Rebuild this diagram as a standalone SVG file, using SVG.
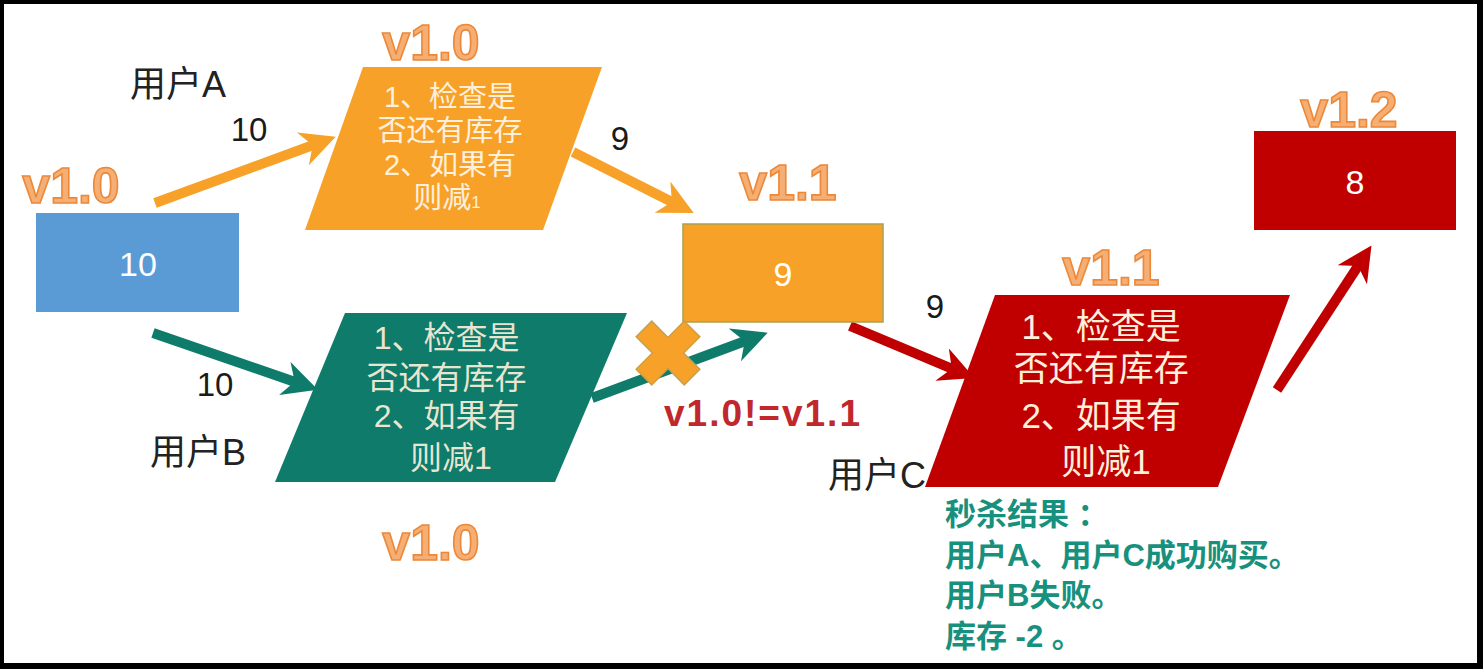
<svg xmlns="http://www.w3.org/2000/svg" width="1483" height="669" viewBox="0 0 1483 669">
  <defs>
    <marker id="headO" viewBox="0 0 10 10" refX="4" refY="5" markerWidth="3.5" markerHeight="3.5" orient="auto" markerUnits="strokeWidth">
      <path d="M0,0 L10,5 L0,10 L3,5 z" fill="#F7A128"/>
    </marker>
    <marker id="headG" viewBox="0 0 10 10" refX="4" refY="5" markerWidth="3.5" markerHeight="3.5" orient="auto" markerUnits="strokeWidth">
      <path d="M0,0 L10,5 L0,10 L3,5 z" fill="#0F7B6A"/>
    </marker>
    <marker id="headR" viewBox="0 0 10 10" refX="4" refY="5" markerWidth="3.5" markerHeight="3.5" orient="auto" markerUnits="strokeWidth">
      <path d="M0,0 L10,5 L0,10 L3,5 z" fill="#C00000"/>
    </marker>
  </defs>
  <style>
    text { font-family: "Liberation Sans", "Noto Sans CJK SC", sans-serif; }
    .ver { font-size: 50px; font-weight: bold; fill: #F5AE74; stroke: #EC8838; stroke-width: 1.6; text-anchor: middle; }
    .lbl { font-size: 36px; fill: #222222; }
    .num { font-size: 33px; fill: #1a1a1a; text-anchor: middle; }
    .boxnum { font-size: 34px; fill: #FFFFFF; text-anchor: middle; }
    .inner { fill: #FFF0DC; text-anchor: middle; }
    .res { font-size: 31px; font-weight: bold; fill: #17917D; }
    .conn { fill: none; stroke-width: 10; }
  </style>
  <rect x="0" y="0" width="1483" height="669" fill="#000000"/>
  <rect x="4" y="4" width="1473" height="659" fill="#FFFFFF"/>

  <g id="connectors">
    <line class="conn" x1="155" y1="203" x2="316" y2="144" stroke="#F7A128" marker-end="url(#headO)"/>
    <line class="conn" x1="573" y1="152" x2="675" y2="203.5" stroke="#F7A128" marker-end="url(#headO)"/>
    <line class="conn" x1="153" y1="333" x2="298" y2="383" stroke="#0F7B6A" marker-end="url(#headG)"/>
    <line class="conn" x1="592" y1="398" x2="748" y2="340" stroke="#0F7B6A" marker-end="url(#headG)"/>
    <line class="conn" x1="850" y1="326" x2="955" y2="370" stroke="#C00000" marker-end="url(#headR)"/>
    <line class="conn" x1="1277" y1="390" x2="1360" y2="263" stroke="#C00000" marker-end="url(#headR)"/>
  </g>

  <g id="stock-start">
    <text class="ver" x="71" y="203">v1.0</text>
    <rect x="36" y="213" width="203" height="99" fill="#5B9BD5"/>
    <text class="boxnum" x="138" y="276" font-size="37">10</text>
  </g>

  <g id="labels-userA">
    <text class="lbl" x="130" y="97">用户A</text>
    <text class="num" x="249" y="141">10</text>
  </g>

  <g id="process-A">
    <text class="ver" x="431" y="60">v1.0</text>
    <polygon points="363,67 602,67 543,230 305,230" fill="#F7A128"/>
    <text class="inner" font-size="29">
      <tspan x="454" y="107">1、检查是</tspan>
      <tspan x="454" y="141">否还有库存</tspan>
      <tspan x="454" y="175">2、如果有</tspan>
      <tspan x="447" y="208">则减<tspan font-size="17">1</tspan></tspan>
    </text>
  </g>

  <g id="label-9a">
    <text class="num" x="620" y="150">9</text>
  </g>

  <g id="stock-v11">
    <text class="ver" x="788" y="200">v1.1</text>
    <rect x="683" y="224" width="200" height="98" fill="#F7A128" stroke="#A8A050" stroke-width="1.5"/>
    <text class="boxnum" x="783" y="286">9</text>
  </g>

  <g id="labels-userB">
    <text class="num" x="215" y="396">10</text>
    <text class="lbl" x="150" y="465">用户B</text>
  </g>

  <g id="process-B">
    <polygon points="345,313 627,313 555,482 275,482" fill="#0F7B6A"/>
    <text class="inner" font-size="32" fill-opacity="0.92">
      <tspan x="451" y="349">1、检查是</tspan>
      <tspan x="451" y="389">否还有库存</tspan>
      <tspan x="451" y="427">2、如果有</tspan>
      <tspan x="451" y="469">则减1</tspan>
    </text>
    <text class="ver" x="431" y="560">v1.0</text>
  </g>

  <g id="conflict">
    <polygon transform="translate(668,353) rotate(45)" points="-11,-34 11,-34 11,-11 34,-11 34,11 11,11 11,34 -11,34 -11,11 -34,11 -34,-11 -11,-11" fill="#F7A128" stroke="#C9A04A" stroke-width="1.5"/>
    <text x="664" y="426" font-size="37" font-weight="bold" fill="#C0282D" letter-spacing="2">v1.0!=v1.1</text>
  </g>

  <g id="label-9b">
    <text class="num" x="935" y="318">9</text>
  </g>

  <g id="process-C">
    <text class="lbl" x="828" y="488">用户C</text>
    <text class="ver" x="1111" y="285">v1.1</text>
    <polygon points="995,295 1290,295 1218,487 925,487" fill="#C00000"/>
    <text class="inner" font-size="35" fill="#FBE6E6">
      <tspan x="1106" y="339">1、检查是</tspan>
      <tspan x="1106" y="381">否还有库存</tspan>
      <tspan x="1106" y="428">2、如果有</tspan>
      <tspan x="1106" y="474">则减1</tspan>
    </text>
  </g>

  <g id="stock-v12">
    <text class="ver" x="1349" y="127">v1.2</text>
    <rect x="1254" y="131" width="202" height="99" fill="#C00000"/>
    <text class="boxnum" x="1355" y="194" font-size="32">8</text>
  </g>

  <g id="result">
    <text class="res" x="945" y="525">秒杀结果 ：</text>
    <text class="res" x="945" y="566">用户A、用户C成功购买。</text>
    <text class="res" x="945" y="606">用户B失败。</text>
    <text class="res" x="945" y="647">库存 -2 。</text>
  </g>
</svg>
